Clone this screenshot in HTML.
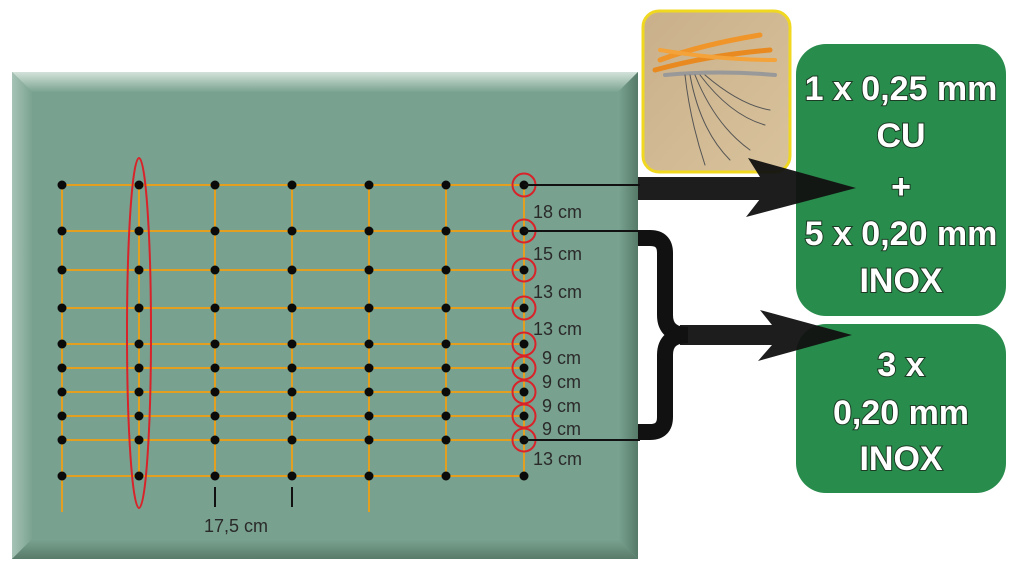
<!DOCTYPE html>
<html><head><meta charset="utf-8"><style>
html,body{margin:0;padding:0;background:#fff;}
svg{display:block;}
.d{font-family:"Liberation Sans",sans-serif;font-size:18px;fill:#2a2a2a;}
.b{font-family:"Liberation Sans",sans-serif;font-weight:bold;font-size:34px;fill:#fff;text-anchor:middle;}
</style></head><body>
<svg width="1024" height="579" viewBox="0 0 1024 579" xmlns="http://www.w3.org/2000/svg">
<defs>
<linearGradient id="tb" x1="0" y1="0" x2="0" y2="1"><stop offset="0" stop-color="#d3e2da"/><stop offset="1" stop-color="#7ba391"/></linearGradient>
<linearGradient id="lb" x1="0" y1="0" x2="1" y2="0"><stop offset="0" stop-color="#a6c3b6"/><stop offset="1" stop-color="#7ba391"/></linearGradient>
<linearGradient id="bb" x1="0" y1="0" x2="0" y2="1"><stop offset="0" stop-color="#7ba391"/><stop offset="1" stop-color="#587a69"/></linearGradient>
<linearGradient id="rb" x1="0" y1="0" x2="1" y2="0"><stop offset="0" stop-color="#7ba391"/><stop offset="1" stop-color="#557a68"/></linearGradient>
<linearGradient id="ph" x1="0" y1="0" x2="1" y2="1"><stop offset="0" stop-color="#c9b08a"/><stop offset="1" stop-color="#d8c29c"/></linearGradient>
<g id="col"><circle cx="0" cy="185" r="4.5"/><circle cx="0" cy="231" r="4.5"/><circle cx="0" cy="270" r="4.5"/><circle cx="0" cy="308" r="4.5"/><circle cx="0" cy="344" r="4.5"/><circle cx="0" cy="368" r="4.5"/><circle cx="0" cy="392" r="4.5"/><circle cx="0" cy="416" r="4.5"/><circle cx="0" cy="440" r="4.5"/><circle cx="0" cy="476" r="4.5"/></g>
</defs>
<rect x="12" y="72" width="626" height="487" fill="#79a18f"/>
<polygon points="12,72 638,72 618,92 32,92" fill="url(#tb)"/>
<polygon points="12,72 32,92 32,539 12,559" fill="url(#lb)"/>
<polygon points="12,559 32,539 618,539 638,559" fill="url(#bb)"/>
<polygon points="638,72 638,559 618,539 618,92" fill="url(#rb)"/>
<rect x="32" y="92" width="586" height="447" fill="#79a18f"/>
<g stroke="#e3a020" stroke-width="2">
<line x1="62" y1="185" x2="62" y2="512"/><line x1="139" y1="185" x2="139" y2="476"/>
<line x1="215" y1="185" x2="215" y2="476"/><line x1="292" y1="185" x2="292" y2="476"/>
<line x1="369" y1="185" x2="369" y2="512"/><line x1="446" y1="185" x2="446" y2="476"/>
<line x1="524" y1="185" x2="524" y2="476"/>
<line x1="62" y1="185" x2="524" y2="185"/><line x1="62" y1="231" x2="524" y2="231"/>
<line x1="62" y1="270" x2="524" y2="270"/><line x1="62" y1="308" x2="524" y2="308"/>
<line x1="62" y1="344" x2="524" y2="344"/><line x1="62" y1="368" x2="524" y2="368"/>
<line x1="62" y1="392" x2="524" y2="392"/><line x1="62" y1="416" x2="524" y2="416"/>
<line x1="62" y1="440" x2="524" y2="440"/><line x1="62" y1="476" x2="524" y2="476"/>
</g>
<g stroke="#111" stroke-width="2"><line x1="215" y1="487" x2="215" y2="507"/><line x1="292" y1="487" x2="292" y2="507"/></g>
<g fill="#0a0a0a">
<use href="#col" x="62"/><use href="#col" x="139"/><use href="#col" x="215"/><use href="#col" x="292"/><use href="#col" x="369"/><use href="#col" x="446"/><use href="#col" x="524"/>
</g>
<g fill="none" stroke="#d8232a" stroke-width="2">
<circle cx="524" cy="185" r="11.5"/><circle cx="524" cy="231" r="11.5"/><circle cx="524" cy="270" r="11.5"/><circle cx="524" cy="308" r="11.5"/><circle cx="524" cy="344" r="11.5"/><circle cx="524" cy="368" r="11.5"/><circle cx="524" cy="392" r="11.5"/><circle cx="524" cy="416" r="11.5"/><circle cx="524" cy="440" r="11.5"/>
<ellipse cx="139" cy="333" rx="12" ry="175"/>
</g>
<g class="d">
<text x="533" y="218">18 cm</text><text x="533" y="260">15 cm</text>
<text x="533" y="298">13 cm</text><text x="533" y="335">13 cm</text>
<text x="542" y="364">9 cm</text><text x="542" y="388">9 cm</text>
<text x="542" y="412">9 cm</text><text x="542" y="435">9 cm</text>
<text x="533" y="465">13 cm</text><text x="204" y="532">17,5 cm</text>
</g>
<g stroke="#111" stroke-width="2"><line x1="524" y1="185" x2="640" y2="185"/><line x1="524" y1="231" x2="640" y2="231"/><line x1="524" y1="440" x2="640" y2="440"/></g>
<rect x="643" y="11" width="147" height="161" rx="16" fill="url(#ph)" stroke="#f0d820" stroke-width="3"/>
<g fill="none" stroke-linecap="round">
<path d="M660,60 Q700,45 760,35" stroke="#f0952a" stroke-width="5"/>
<path d="M655,70 Q710,55 770,50" stroke="#e88a20" stroke-width="5"/>
<path d="M660,50 Q720,60 775,60" stroke="#f3a33a" stroke-width="4"/>
<path d="M665,75 Q720,70 775,75" stroke="#999" stroke-width="4"/>
<g stroke="#555" stroke-width="1"><path d="M690,75 Q700,130 730,160"/><path d="M695,75 Q715,125 750,150"/><path d="M700,75 Q730,115 765,125"/><path d="M705,75 Q740,105 770,110"/><path d="M685,75 Q690,120 705,165"/></g>
</g>
<rect x="796" y="44" width="210" height="272" rx="30" fill="#288c4c"/>
<rect x="796" y="324" width="210" height="169" rx="30" fill="#288c4c"/>
<g class="b" style="paint-order:stroke" stroke="#1c3a24" stroke-width="2">
<text x="901" y="100">1 x 0,25 mm</text>
<text x="901" y="147">CU</text><text x="901" y="198">+</text>
<text x="901" y="245">5 x 0,20 mm</text><text x="901" y="292">INOX</text>
<text x="901" y="376">3 x</text><text x="901" y="424">0,20 mm</text><text x="901" y="470">INOX</text>
</g>
<g fill="#111" opacity="0.95">
<rect x="638" y="177" width="125" height="23"/>
<polygon points="748,158 856,188 746,217 760,199 760,177"/>
<polygon points="760,310 852,335 758,361 772,345 772,325"/>
<rect x="680" y="325" width="95" height="20"/>
</g>
<g fill="none" stroke="#111" stroke-width="16">
<path d="M638,238 H650 Q665,238 665,253 V315 Q665,335 688,335"/>
<path d="M638,432 H650 Q665,432 665,417 V355 Q665,335 688,335"/>
</g>
</svg>
</body></html>
